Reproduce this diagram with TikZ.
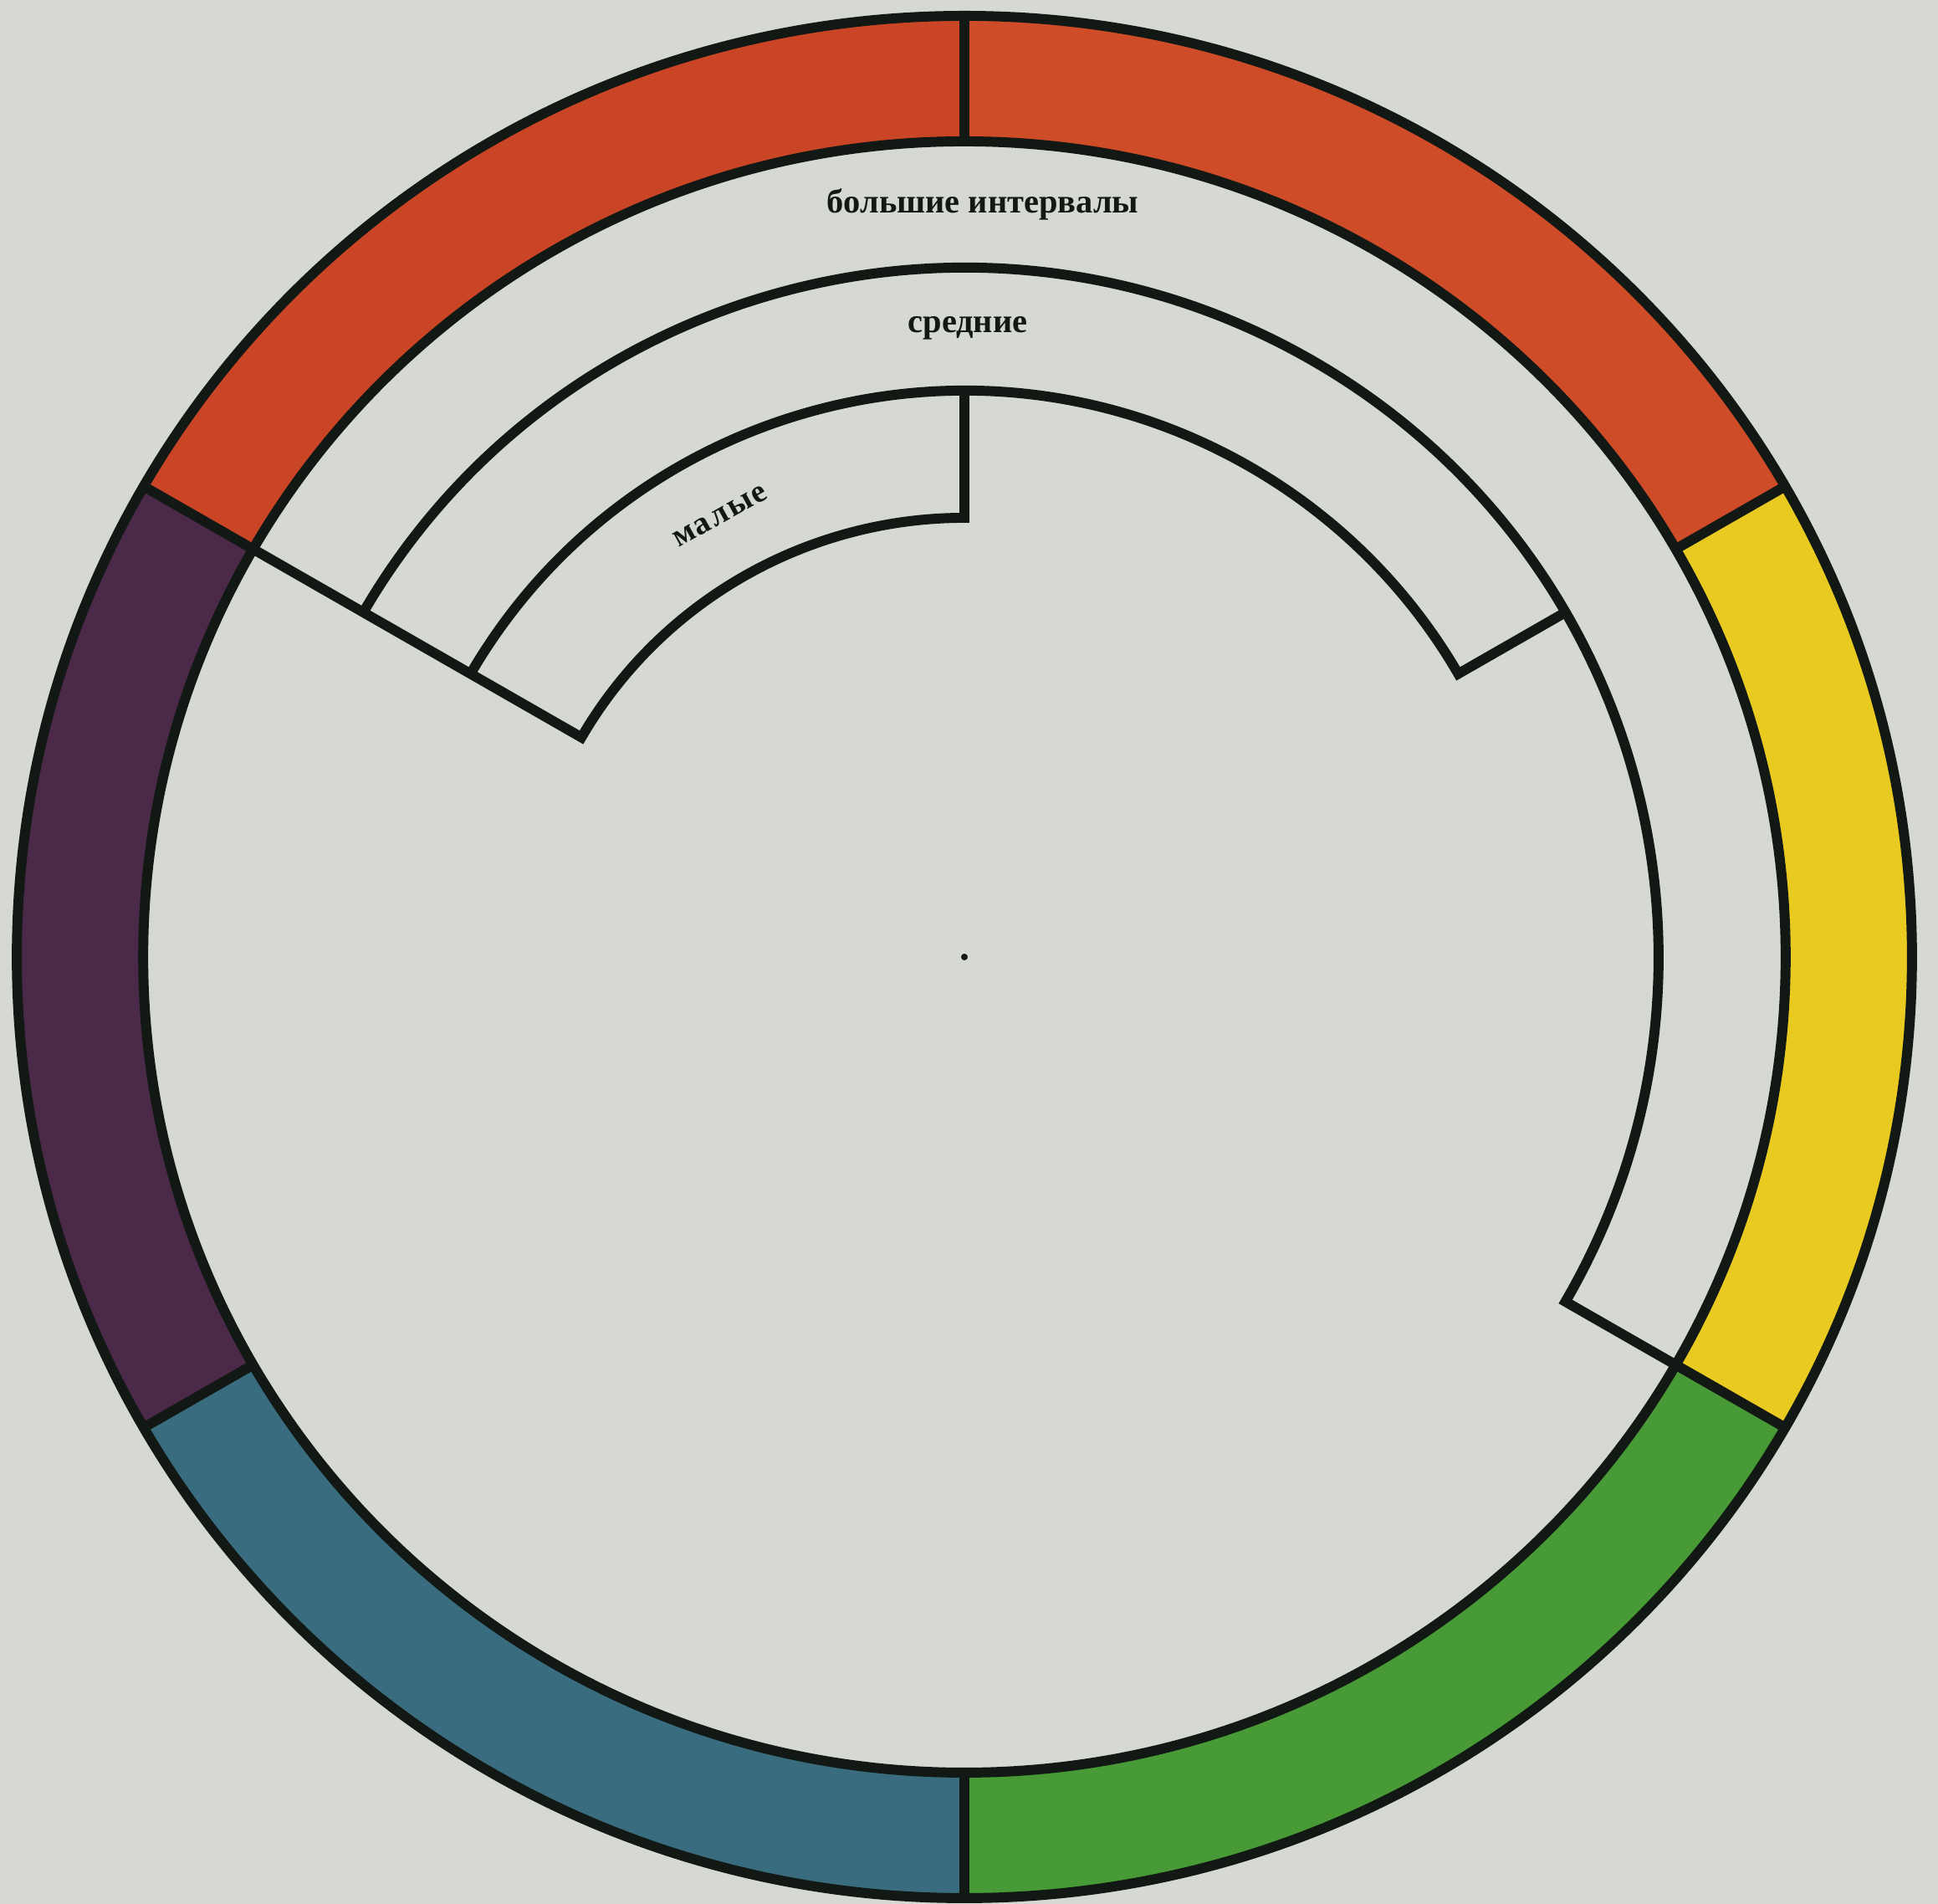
\documentclass[tikz,border=0pt]{standalone}
\usepackage{fontspec}
\setmainfont{Liberation Serif}
\definecolor{bg}{RGB}{214,217,210}
\definecolor{ink}{RGB}{18,24,20}
\definecolor{redL}{RGB}{201,69,38}
\definecolor{redR}{RGB}{206,76,40}
\definecolor{yel}{RGB}{232,202,32}
\definecolor{grn}{RGB}{72,154,54}
\definecolor{teal}{RGB}{56,108,126}
\definecolor{purp}{RGB}{74,42,72}
\tikzset{
  outline/.style={draw=ink, line width=3.4pt, line join=miter},
  lbl/.style={font=\bfseries\fontsize{11.5}{12}\selectfont, text=ink, inner sep=0pt},
}
\newcommand{\sector}[3]{%
  \fill[#1] (#2:11.25) arc[start angle=#2, end angle=#3, radius=11.25]
     -- (#3:9.75) arc[start angle=#3, end angle=#2, radius=9.75] -- cycle;}
\begin{document}
\begin{tikzpicture}
\fill[bg] (0,0) rectangle (23.17,22.76);
\useasboundingbox (0,0) rectangle (23.17,22.76);
\begin{scope}[shift={(11.53,11.32)}, xscale=1.007]
  \sector{redR}{30}{90}
  \sector{redL}{90}{150}
  \sector{purp}{150}{210}
  \sector{teal}{210}{270}
  \sector{grn}{270}{330}
  \sector{yel}{330}{390}
  \draw[outline] (0,0) circle[radius=11.25];
  \draw[outline] (0,0) circle[radius=9.75];
  \foreach \a in {30,90,150,210,270,330}
    \draw[outline] (\a:9.75) -- (\a:11.25);
  % inner bands
  \draw[outline] (150:9.75) -- (150:5.25) arc[start angle=150, end angle=90, radius=5.25] -- (90:6.77);
  \draw[outline] (150:6.77) arc[start angle=150, end angle=30, radius=6.77] -- (30:8.24);
  \draw[outline] (150:8.24) arc[start angle=150, end angle=-30, radius=8.24] -- (-30:9.75);
  \fill[ink] (0,0) circle[radius=0.04];
  \node[lbl, anchor=base] (big) at (0.22,8.89) {большие интервалы};
  \node[lbl, anchor=base] (mid) at (0.04,7.46) {средние};
  \node[lbl, anchor=center, rotate=29, font=\bfseries\fontsize{11}{12}\selectfont\addfontfeatures{LetterSpace=6}] (small) at (-2.90,5.27) {малые};
\end{scope}
\end{tikzpicture}
\end{document}
